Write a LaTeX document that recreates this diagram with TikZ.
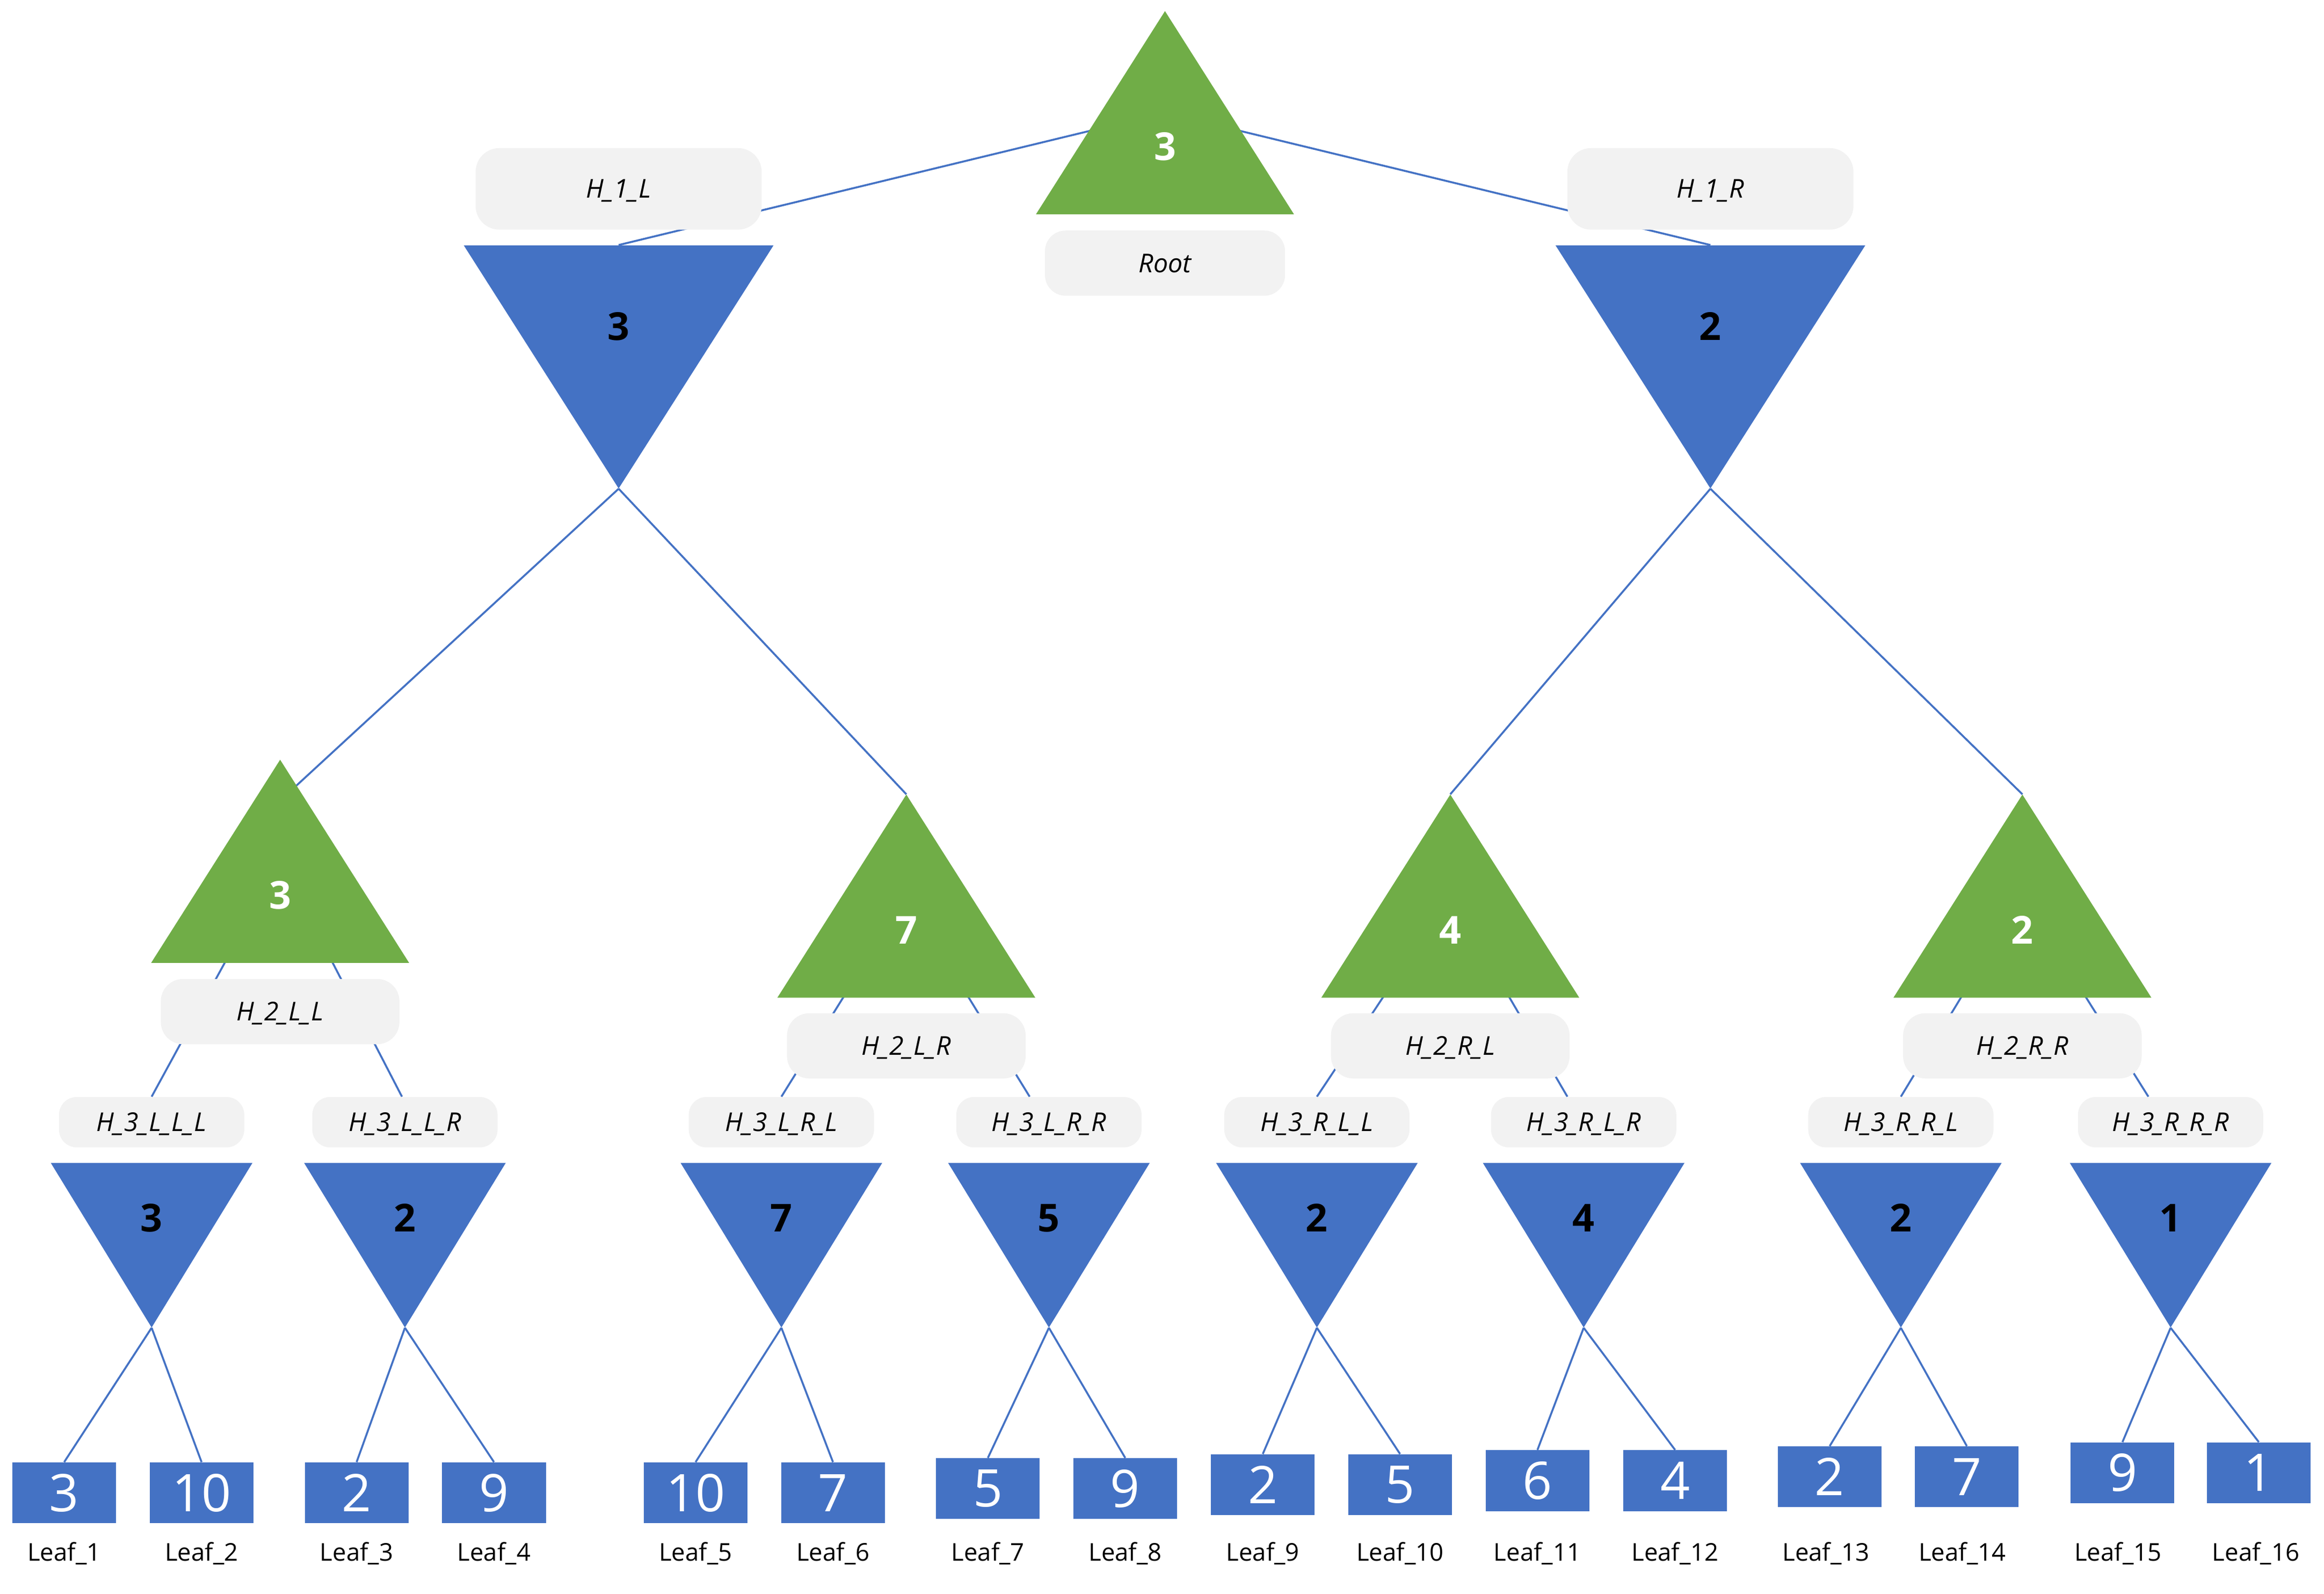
\documentclass[tikz,border=0pt]{standalone}
\usepackage{fontspec}
\setmainfont{Open Sans}
\usepackage{tikz}
\usetikzlibrary{backgrounds}
\definecolor{maxgreen}{HTML}{70AD47}
\definecolor{minblue}{HTML}{4472C4}
\definecolor{tagfill}{HTML}{F2F2F2}

\begin{document}
\begin{tikzpicture}[x=1pt,y=-1pt,
    edge/.style={minblue,line width=1.3pt},
    maxnode/.style={minimum width=174,minimum height=137,inner sep=0pt,text=white,
        font=\fontsize{26}{30}\selectfont\bfseries,text height=64.3pt,text depth=0pt,
        path picture={\fill[maxgreen] (path picture bounding box.south west) -- (path picture bounding box.south east) -- (path picture bounding box.north) -- cycle;}},
    minnode/.style={minimum width=136,minimum height=111,inner sep=0pt,text=black,
        font=\fontsize{26}{30}\selectfont\bfseries,text height=18.6pt,text depth=37pt,
        path picture={\fill[minblue] (path picture bounding box.north west) -- (path picture bounding box.north east) -- (path picture bounding box.south) -- cycle;}},
    bigmin/.style={minnode,minimum width=209,minimum height=164,text depth=54.7pt},
    htag/.style={fill=tagfill,rounded corners=12,minimum width=125,minimum height=34,inner sep=0pt,
        font=\fontsize{17.5}{20}\selectfont\itshape,text height=12.5pt,text depth=0pt},
    leafbox/.style={fill=minblue,minimum width=70,minimum height=41,inner sep=0pt,text=white,
        font=\fontsize{35}{40}\selectfont},
    leaftag/.style={inner sep=0pt,font=\fontsize{16.5}{20}\selectfont,text height=11.8pt,text depth=0pt}]
    \useasboundingbox (0,0) rectangle (1568,1075);

    % root
    \node[maxnode] (root) at (786,76) {3};
    \node[htag,minimum width=162,minimum height=44,rounded corners=14] (roottag) at (786,177.5) {Root};

    % first level
    \node[bigmin] (l) at (417.4,247.5) {3};
    \node[bigmin] (r) at (1154,247.5) {2};
    \node[htag,minimum width=193,minimum height=55,rounded corners=16] (hl) at (417.4,127.4) {H\_1\_L};
    \node[htag,minimum width=193,minimum height=55,rounded corners=16] (hr) at (1154,127.4) {H\_1\_R};

    % second level
    \node[maxnode] (ll) at (189,581) {3};
    \node[maxnode] (lr) at (611.5,604.5) {7};
    \node[maxnode] (rl) at (978.5,604.5) {4};
    \node[maxnode] (rr) at (1364.5,604.5) {2};
    \coordinate (lltop) at (188,541);
    \node[htag,minimum width=161,minimum height=44,rounded corners=15] (h2ll) at (189,682.4) {H\_2\_L\_L};
    \node[htag,minimum width=161,minimum height=44,rounded corners=15] (h2lr) at (611.5,705.5) {H\_2\_L\_R};
    \node[htag,minimum width=161,minimum height=44,rounded corners=15] (h2rl) at (978.5,705.5) {H\_2\_R\_L};
    \node[htag,minimum width=161,minimum height=44,rounded corners=15] (h2rr) at (1364.5,705.5) {H\_2\_R\_R};

    % third level
    \node[htag] (h3lll) at (102.3,757) {H\_3\_L\_L\_L};
    \node[htag] (h3llr) at (273.2,757) {H\_3\_L\_L\_R};
    \node[htag] (h3lrl) at (527.2,757) {H\_3\_L\_R\_L};
    \node[htag] (h3lrr) at (707.7,757) {H\_3\_L\_R\_R};
    \node[htag] (h3rll) at (888.5,757) {H\_3\_R\_L\_L};
    \node[htag] (h3rlr) at (1068.5,757) {H\_3\_R\_L\_R};
    \node[htag] (h3rrl) at (1282.5,757) {H\_3\_R\_R\_L};
    \node[htag] (h3rrr) at (1464.5,757) {H\_3\_R\_R\_R};
    \node[minnode] (lll) at (102.3,840) {3};
    \node[minnode] (llr) at (273.2,840) {2};
    \node[minnode] (lrl) at (527.2,840) {7};
    \node[minnode] (lrr) at (707.7,840) {5};
    \node[minnode] (rll) at (888.5,840) {2};
    \node[minnode] (rlr) at (1068.5,840) {4};
    \node[minnode] (rrl) at (1282.5,840) {2};
    \node[minnode] (rrr) at (1464.5,840) {1};

    % leaves
    \node[leafbox] (leaf1) at (43.3,1007) {3};
    \node[leafbox] (leaf2) at (136,1007) {10};
    \node[leafbox] (leaf3) at (240.6,1007) {2};
    \node[leafbox] (leaf4) at (333.3,1007) {9};
    \node[leafbox] (leaf5) at (469.3,1007) {10};
    \node[leafbox] (leaf6) at (562,1007) {7};
    \node[leafbox] (leaf7) at (666.5,1004.2) {5};
    \node[leafbox] (leaf8) at (759.2,1004.2) {9};
    \node[leafbox] (leaf9) at (852,1001.5) {2};
    \node[leafbox] (leaf10) at (944.6,1001.5) {5};
    \node[leafbox] (leaf11) at (1037.3,998.8) {6};
    \node[leafbox] (leaf12) at (1130.2,998.8) {4};
    \node[leafbox] (leaf13) at (1234.5,996.2) {2};
    \node[leafbox] (leaf14) at (1327,996.2) {7};
    \node[leafbox] (leaf15) at (1432,993.5) {9};
    \node[leafbox] (leaf16) at (1524,993.5) {1};
    \node[leaftag] (tag1) at (43.3,1047) {Leaf\_1};
    \node[leaftag] (tag2) at (136,1047) {Leaf\_2};
    \node[leaftag] (tag3) at (240.6,1047) {Leaf\_3};
    \node[leaftag] (tag4) at (333.3,1047) {Leaf\_4};
    \node[leaftag] (tag5) at (469.3,1047) {Leaf\_5};
    \node[leaftag] (tag6) at (562,1047) {Leaf\_6};
    \node[leaftag] (tag7) at (666.5,1047) {Leaf\_7};
    \node[leaftag] (tag8) at (759.2,1047) {Leaf\_8};
    \node[leaftag] (tag9) at (852,1047) {Leaf\_9};
    \node[leaftag] (tag10) at (944.6,1047) {Leaf\_10};
    \node[leaftag] (tag11) at (1037.3,1047) {Leaf\_11};
    \node[leaftag] (tag12) at (1130.2,1047) {Leaf\_12};
    \node[leaftag] (tag13) at (1232,1047) {Leaf\_13};
    \node[leaftag] (tag14) at (1324,1047) {Leaf\_14};
    \node[leaftag] (tag15) at (1429,1047) {Leaf\_15};
    \node[leaftag] (tag16) at (1522,1047) {Leaf\_16};

    % edges, behind everything
    \begin{scope}[on background layer]
    \draw[edge] (root.center) -- (l.north);
    \draw[edge] (root.center) -- (r.north);
    \draw[edge] (l.south) -- (lltop);
    \draw[edge] (l.south) -- (lr.north);
    \draw[edge] (r.south) -- (rl.north);
    \draw[edge] (r.south) -- (rr.north);
    \draw[edge] (ll.center) -- (h3lll.north);
    \draw[edge] (ll.center) -- ([xshift=-2]h3llr.north);
    \draw[edge] (lr.center) -- (h3lrl.north);
    \draw[edge] (lr.center) -- ([xshift=-13]h3lrr.north);
    \draw[edge] (rl.center) -- (h3rll.north);
    \draw[edge] (rl.center) -- ([xshift=-11]h3rlr.north);
    \draw[edge] (rr.center) -- (h3rrl.north);
    \draw[edge] (rr.center) -- ([xshift=-15]h3rrr.north);
    \draw[edge] (lll.south) -- (leaf1.north);
    \draw[edge] (lll.south) -- (leaf2.north);
    \draw[edge] (llr.south) -- (leaf3.north);
    \draw[edge] (llr.south) -- (leaf4.north);
    \draw[edge] (lrl.south) -- (leaf5.north);
    \draw[edge] (lrl.south) -- (leaf6.north);
    \draw[edge] (lrr.south) -- (leaf7.north);
    \draw[edge] (lrr.south) -- (leaf8.north);
    \draw[edge] (rll.south) -- (leaf9.north);
    \draw[edge] (rll.south) -- (leaf10.north);
    \draw[edge] (rlr.south) -- (leaf11.north);
    \draw[edge] (rlr.south) -- (leaf12.north);
    \draw[edge] (rrl.south) -- (leaf13.north);
    \draw[edge] (rrl.south) -- (leaf14.north);
    \draw[edge] (rrr.south) -- (leaf15.north);
    \draw[edge] (rrr.south) -- (leaf16.north);
    \end{scope}
\end{tikzpicture}
\end{document}
